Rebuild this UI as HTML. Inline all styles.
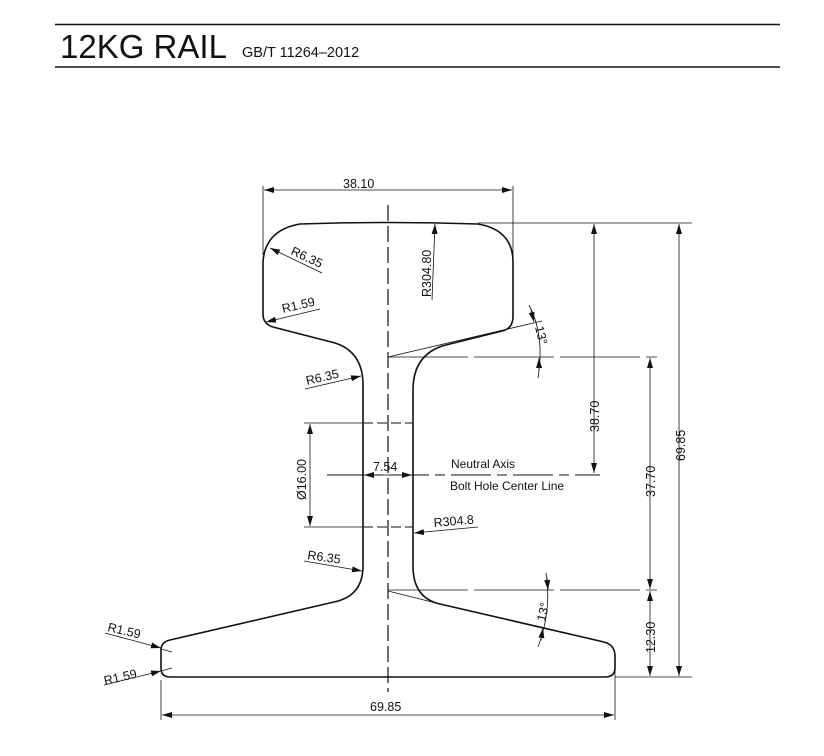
<!DOCTYPE html>
<html><head><meta charset="utf-8"><style>
body{margin:0;background:#fff;width:824px;height:756px;overflow:hidden}
svg{display:block}
text{font-family:"Liberation Sans",sans-serif;fill:#111}
</style></head><body>
<svg width="824" height="756" viewBox="0 0 824 756" xmlns="http://www.w3.org/2000/svg">
<defs>
<marker id="a" viewBox="0 0 10 6" refX="10" refY="3" markerWidth="10" markerHeight="6" orient="auto-start-reverse" markerUnits="userSpaceOnUse"><path d="M0,0 L10,3 L0,6z" fill="#111"/></marker>
</defs>
<line x1="55" y1="24.5" x2="780" y2="24.5" stroke="#111" stroke-width="1.6"/>
<line x1="55" y1="67" x2="780" y2="67" stroke="#111" stroke-width="1.6"/>
<text x="60" y="58" font-size="33">12KG RAIL</text>
<text x="242" y="57" font-size="14.5" fill="#333">GB/T 11264–2012</text>

<path d="M300,224 Q388,221 478,224 Q513,230 513,262 L513,318 Q512,329 502,331 L442,346 Q413,356 413,390 L413,566 Q413,598 440,604 L604,642 Q615,645 615,656 L615,668 Q615,677 605,677 L170,677 Q161,677 161,668 L161,650 Q161,642 170,640 L334,602 Q363,596 363,566 L363,385 Q363,352 335,343 L273,327 Q263,324 263,314 L263,262 Q265,230 300,224 Z" fill="none" stroke="#111" stroke-width="1.6"/>

<g stroke="#111" stroke-width="0.8" fill="none">
<line x1="388" y1="205" x2="388" y2="692" stroke-dasharray="16,5" stroke-width="1.2"/>
<line x1="263" y1="186" x2="263" y2="255"/>
<line x1="513" y1="186" x2="513" y2="262"/>
<line x1="264" y1="190" x2="512" y2="190" marker-start="url(#a)" marker-end="url(#a)"/>
<line x1="478" y1="223" x2="692" y2="223"/>
<line x1="594" y1="224" x2="594" y2="473" marker-start="url(#a)" marker-end="url(#a)"/>
<line x1="327" y1="475" x2="600" y2="475" stroke-dasharray="40,6,10,6" stroke-width="1"/>
<line x1="364" y1="475" x2="412" y2="475" marker-start="url(#a)" marker-end="url(#a)"/>
<line x1="388" y1="357" x2="657" y2="357" stroke-dasharray="80,6"/>
<line x1="388" y1="590" x2="657" y2="590" stroke-dasharray="80,6"/>
<line x1="615" y1="677" x2="692" y2="677"/>
<line x1="650" y1="358" x2="650" y2="589" marker-start="url(#a)" marker-end="url(#a)"/>
<line x1="650" y1="591" x2="650" y2="676" marker-start="url(#a)" marker-end="url(#a)"/>
<line x1="679" y1="224" x2="679" y2="676" marker-start="url(#a)" marker-end="url(#a)"/>
<line x1="161" y1="680" x2="161" y2="720"/>
<line x1="615" y1="668" x2="615" y2="720"/>
<line x1="162" y1="715" x2="614" y2="715" marker-start="url(#a)" marker-end="url(#a)"/>
<line x1="304" y1="423" x2="363" y2="423"/>
<line x1="304" y1="527" x2="363" y2="527"/>
<line x1="363" y1="423" x2="413" y2="423" stroke-width="1.1" stroke-dasharray="10,4"/>
<line x1="363" y1="527" x2="413" y2="527" stroke-width="1.1" stroke-dasharray="10,4"/>
<line x1="310" y1="424" x2="310" y2="526" marker-start="url(#a)" marker-end="url(#a)"/>
<line x1="388" y1="357" x2="542" y2="321"/>
<path d="M529,305 Q545,335 538,378"/>
<line x1="531" y1="310" x2="534" y2="322" marker-end="url(#a)"/>
<line x1="539" y1="370" x2="539" y2="358" marker-end="url(#a)"/>
<line x1="388" y1="591" x2="440" y2="604"/>
<path d="M546,573 Q552,610 538,647"/>
<line x1="547" y1="578" x2="548" y2="590" marker-end="url(#a)"/>
<line x1="541" y1="640" x2="543" y2="628" marker-end="url(#a)"/>
<line x1="432" y1="300" x2="435" y2="224" marker-end="url(#a)"/>
<line x1="322" y1="273" x2="270" y2="248" marker-end="url(#a)"/>
<line x1="320" y1="309" x2="266" y2="322" marker-end="url(#a)"/>
<line x1="305" y1="389" x2="361" y2="376" marker-end="url(#a)"/>
<line x1="478" y1="527" x2="414" y2="533" marker-end="url(#a)"/>
<line x1="304" y1="561" x2="362" y2="571" marker-end="url(#a)"/>
<line x1="105" y1="633" x2="161" y2="648" marker-end="url(#a)"/>
<line x1="172" y1="652" x2="161" y2="649"/>
<line x1="104" y1="685" x2="161" y2="671" marker-end="url(#a)"/>
<line x1="172" y1="668" x2="161" y2="671"/>
</g>

<g font-size="12.5">
<text x="343" y="188">38.10</text>
<text transform="translate(290,254) rotate(25)">R6.35</text>
<text transform="translate(283,313) rotate(-13)">R1.59</text>
<text transform="translate(431,297) rotate(-90)">R304.80</text>
<text transform="translate(535,327) rotate(77)">13°</text>
<text transform="translate(307,385) rotate(-13)">R6.35</text>
<text transform="translate(599,432) rotate(-90)">38.70</text>
<text transform="translate(306,500) rotate(-90)">Ø16.00</text>
<text x="373" y="471">7.54</text>
<text x="451" y="468" font-size="12">Neutral Axis</text>
<text x="450" y="490" font-size="12">Bolt Hole Center Line</text>
<text transform="translate(434,527) rotate(-5)">R304.8</text>
<text transform="translate(307,559) rotate(8)">R6.35</text>
<text transform="translate(655,497) rotate(-90)">37.70</text>
<text transform="translate(685,461) rotate(-90)">69.85</text>
<text transform="translate(545,622) rotate(-77)">13°</text>
<text transform="translate(655,653) rotate(-90)">12.30</text>
<text transform="translate(107,631) rotate(13)">R1.59</text>
<text transform="translate(105,685) rotate(-13)">R1.59</text>
<text x="370" y="711">69.85</text>
</g>
</svg>
</body></html>
